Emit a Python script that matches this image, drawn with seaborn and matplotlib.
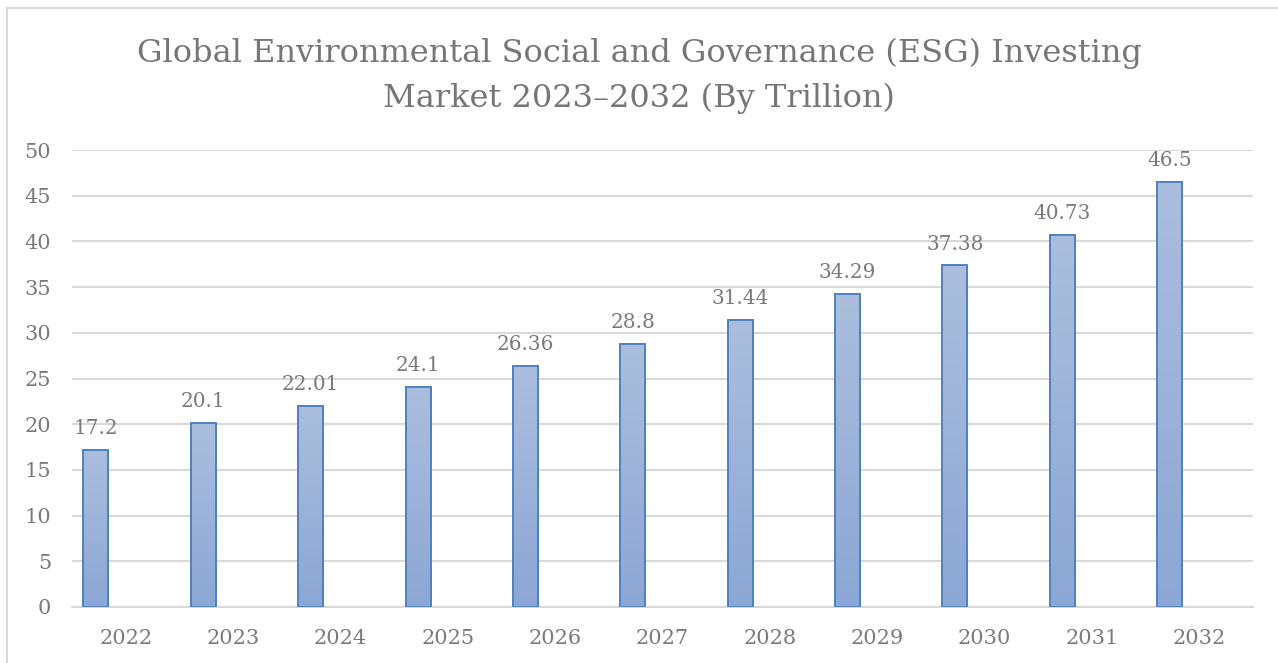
import numpy as np
import pandas as pd
import matplotlib
matplotlib.use("Agg")
import matplotlib.pyplot as plt
from matplotlib.colors import LinearSegmentedColormap
from matplotlib.patches import Rectangle
import seaborn as sns

years = ["2022", "2023", "2024", "2025", "2026", "2027", "2028", "2029", "2030", "2031", "2032"]
market_size = [17.2, 20.1, 22.01, 24.1, 26.36, 28.8, 31.44, 34.29, 37.38, 40.73, 46.5]
value_labels = ["17.2", "20.1", "22.01", "24.1", "26.36", "28.8", "31.44", "34.29", "37.38", "40.73", "46.5"]
y_ticks = [0, 5, 10, 15, 20, 25, 30, 35, 40, 45, 50]

TEXT_GREY = "#7a7a7a"
GRID_GREY = "#d9d9d9"
EDGE_BLUE = "#4f80c0"
FONT = ["DejaVu Serif"]

sns.set_theme(style="white")
plt.rcParams["font.family"] = FONT

df = pd.DataFrame({"year": years, "value": market_size})

fig = plt.figure(figsize=(12.78, 6.63), dpi=100)
ax = fig.add_axes([72 / 1278, 56 / 663, 1181 / 1278, 457 / 663])

bar_width = 0.233
bar_shift = -0.277
sns.barplot(data=df, x="year", y="value", ax=ax, width=bar_width,
            color="#9db3da", edgecolor=EDGE_BLUE, linewidth=1.4, saturation=1, zorder=3)

# Shift each bar to the left side of its category slot and give it a vertical gradient
grad = LinearSegmentedColormap.from_list("bar_grad", ["#8ca7d5", "#abbedd"])
gradient = np.linspace(0, 1, 256).reshape(-1, 1)
for patch in list(ax.patches):
    patch.set_x(patch.get_x() + bar_shift)
    x0 = patch.get_x()
    w = patch.get_width()
    h = patch.get_height()
    patch.set_facecolor("none")
    im = ax.imshow(gradient, cmap=grad, aspect="auto", origin="lower",
                   extent=[x0, x0 + w, 0, h], zorder=2.5, interpolation="bicubic")
    clip = Rectangle((x0, 0), w, h, transform=ax.transData)
    im.set_clip_path(clip)

for i, (v, lab) in enumerate(zip(market_size, value_labels)):
    ax.annotate(lab, xy=(i + bar_shift, v), xytext=(0, 8.5), textcoords="offset points",
                ha="center", va="bottom", fontsize=14.4, color=TEXT_GREY,
                annotation_clip=False)

ax.set_xlim(-0.5, len(years) - 0.5)
ax.set_ylim(0, 50)
ax.set_yticks(y_ticks)
ax.set_yticklabels([str(t) for t in y_ticks])
ax.yaxis.grid(True, color=GRID_GREY, linewidth=1.5, zorder=0)
ax.xaxis.grid(False)
ax.set_axisbelow(True)
for side in ["top", "right", "left"]:
    ax.spines[side].set_visible(False)
ax.spines["bottom"].set_color(GRID_GREY)
ax.spines["bottom"].set_linewidth(1.5)
ax.tick_params(axis="both", length=0, labelsize=15, labelcolor=TEXT_GREY)
ax.tick_params(axis="y", pad=15)
ax.tick_params(axis="x", pad=16)
ax.set_xlabel("")
ax.set_ylabel("")

fig.text(0.5, 1 - 76 / 663,
         "Global Environmental Social and Governance (ESG) Investing\nMarket 2023\u20132032 (By Trillion)",
         ha="center", va="center", fontsize=23, color="#767676", linespacing=1.55)

# Chart frame
fig.patches.append(Rectangle((7 / 1278, -0.1), 1.2, 1 - 8 / 663 + 0.1,
                             transform=fig.transFigure, fill=False,
                             edgecolor="#d9d9d9", linewidth=1.5))

fig.savefig("out.png", dpi=100, facecolor="white")
